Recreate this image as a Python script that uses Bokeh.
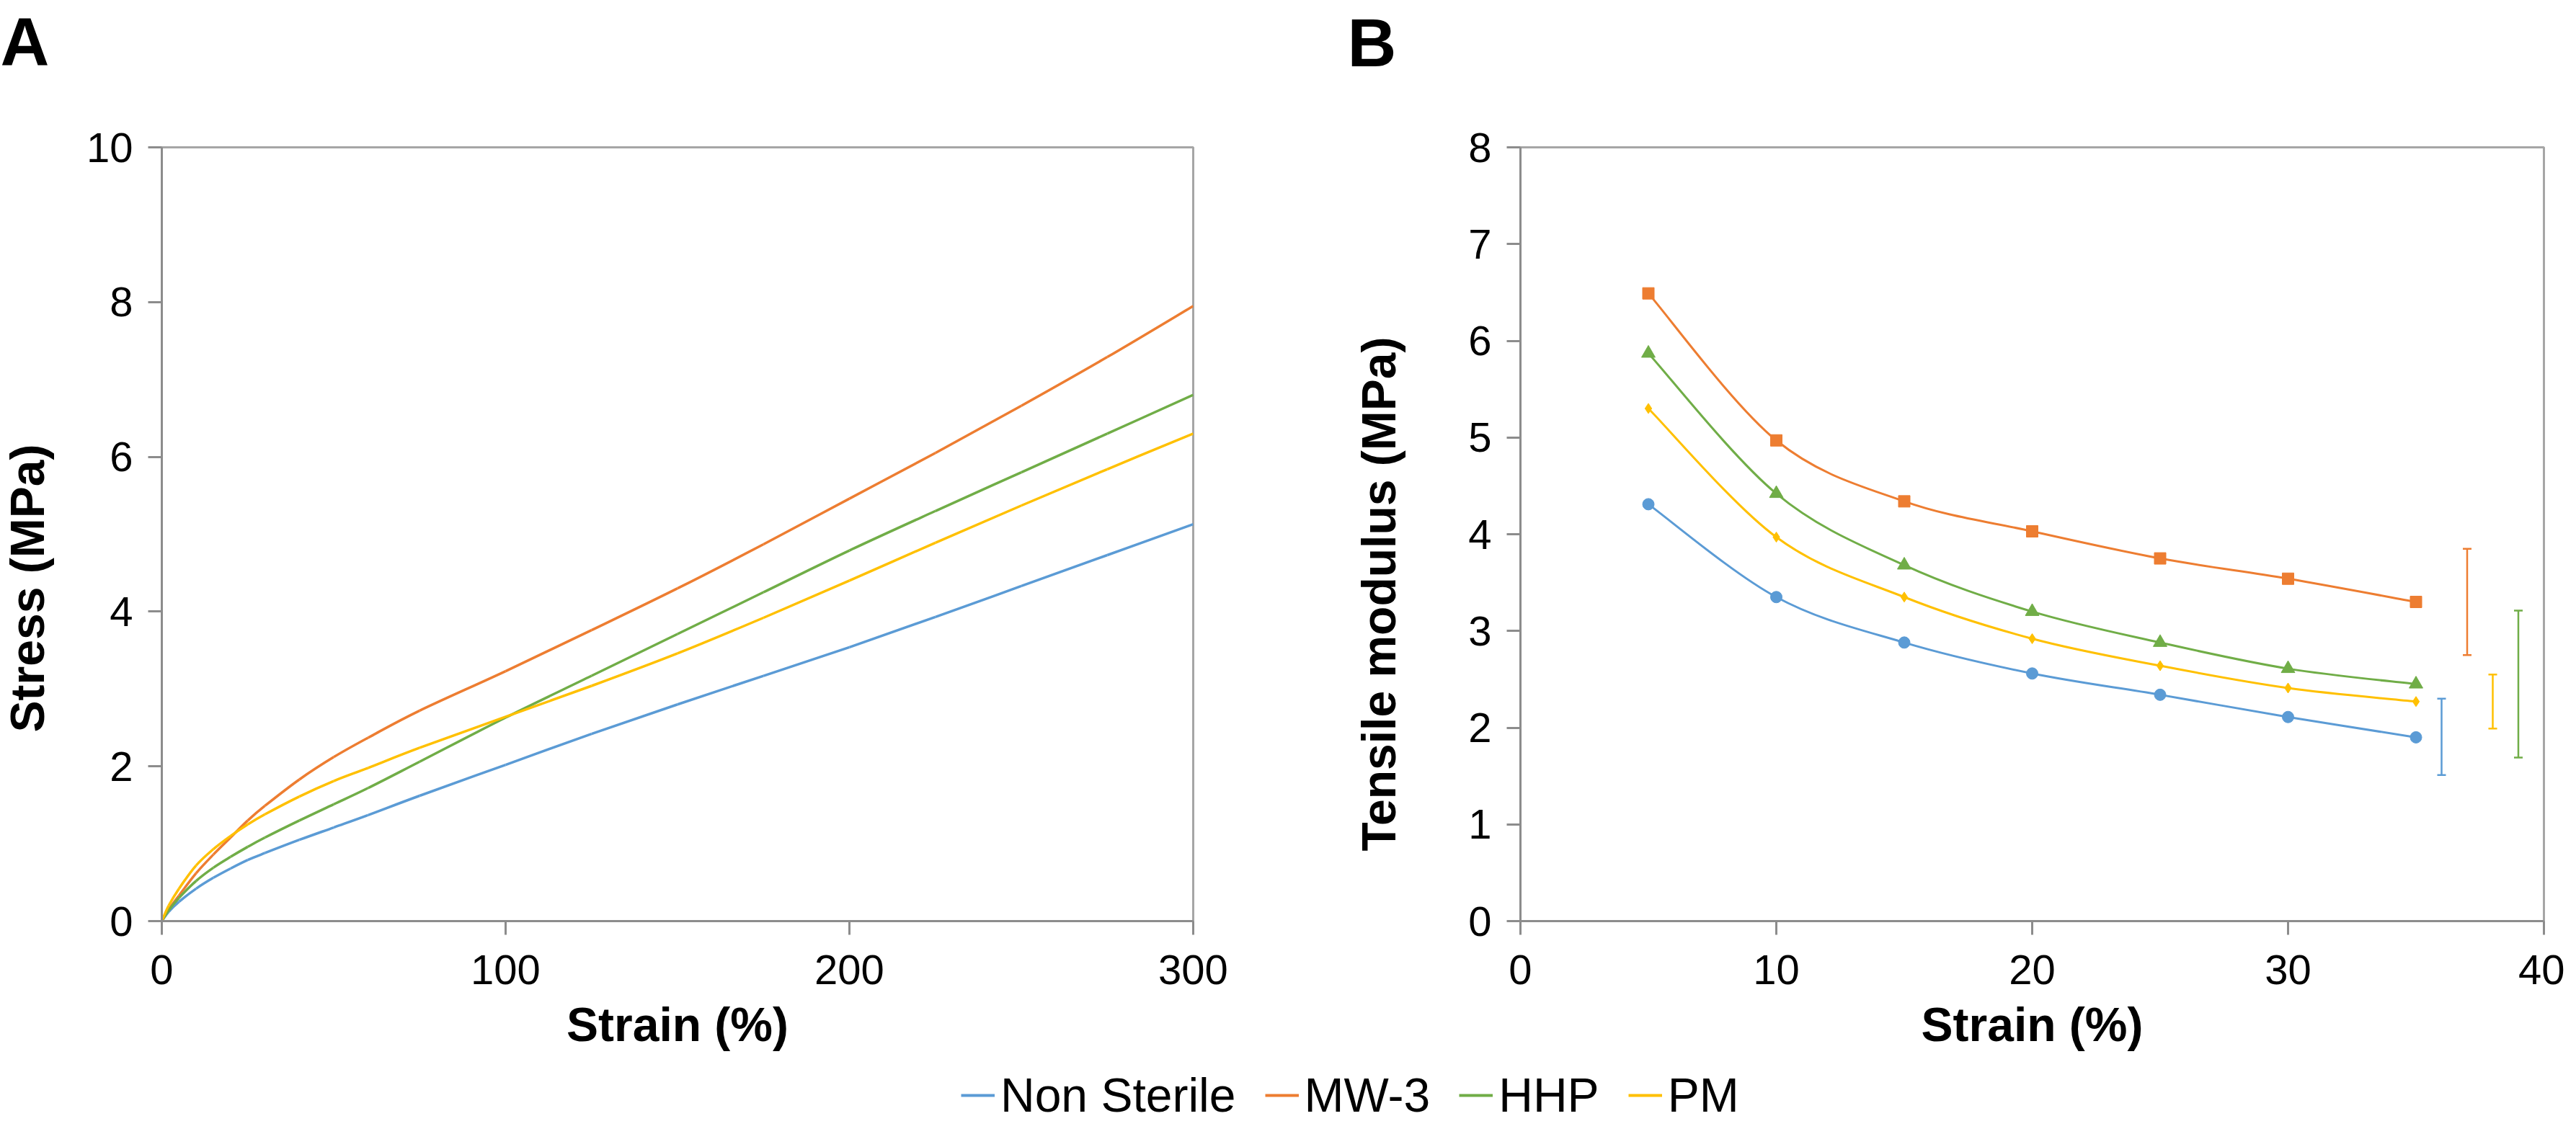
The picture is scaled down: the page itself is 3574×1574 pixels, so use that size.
from math import pi
from bokeh.plotting import figure
from bokeh.models import (Range1d, FixedTicker, Label, Legend, LegendItem, Title,
                          Whisker, TeeHead, ColumnDataSource)
from bokeh.layouts import column, row
from bokeh.embed import file_html
from bokeh.resources import INLINE

# ---------------- data ----------------
series_names = ["Non Sterile", "MW-3", "HHP", "PM"]
series_colors = ["#5B9BD5", "#ED7D31", "#70AD47", "#FFC000"]
series_markers = ["circle", "square", "triangle", "diamond"]

# Panel A: stress-strain curves
strain_a = [0, 2, 5, 10, 15, 20, 25, 30, 40, 50, 60, 75, 100, 125, 150, 175, 200, 225, 250, 275, 300]
stress_nonsterile = [0, 0.12, 0.25, 0.42, 0.56, 0.68, 0.79, 0.88, 1.05, 1.21, 1.37, 1.62, 2.02, 2.42, 2.80, 3.17, 3.54, 3.93, 4.33, 4.73, 5.13]
stress_mw3 = [0, 0.15, 0.33, 0.62, 0.86, 1.08, 1.30, 1.49, 1.83, 2.12, 2.37, 2.72, 3.23, 3.76, 4.30, 4.87, 5.46, 6.05, 6.66, 7.29, 7.95]
stress_hhp = [0, 0.14, 0.30, 0.52, 0.69, 0.83, 0.96, 1.08, 1.30, 1.51, 1.72, 2.06, 2.63, 3.17, 3.71, 4.25, 4.79, 5.30, 5.80, 6.30, 6.80]
stress_pm = [0, 0.20, 0.42, 0.72, 0.93, 1.10, 1.25, 1.38, 1.61, 1.81, 1.98, 2.24, 2.64, 3.04, 3.46, 3.92, 4.40, 4.89, 5.37, 5.84, 6.30]
xticks_a = [0, 100, 200, 300]
yticks_a = [0, 2, 4, 6, 8, 10]

# Panel B: tensile modulus
strain_b = [5, 10, 15, 20, 25, 30, 35]
modulus_nonsterile = [4.31, 3.35, 2.88, 2.56, 2.34, 2.11, 1.90]
modulus_mw3 = [6.49, 4.97, 4.34, 4.03, 3.75, 3.54, 3.30]
modulus_hhp = [5.87, 4.42, 3.68, 3.20, 2.88, 2.61, 2.45]
modulus_pm = [5.30, 3.97, 3.35, 2.92, 2.64, 2.41, 2.27]
# standalone error bars (order: Non Sterile, MW-3, HHP, PM)
errbar_x = [36, 37, 39, 38]
errbar_low = [1.51, 2.75, 1.69, 1.99]
errbar_high = [2.30, 3.85, 3.21, 2.55]
xticks_b = [0, 10, 20, 30, 40]
yticks_b = [0, 1, 2, 3, 4, 5, 6, 7, 8]

FONT = "Liberation Sans"
AXIS_COLOR = "#8C8C8C"
OUTLINE_COLOR = "#A6A6A6"
W = 3558


def smooth_source(xs, ys):
    """Cubic Bezier control points (Catmull-Rom style) through the data points."""
    n = len(xs)
    d = dict(x0=[], y0=[], x1=[], y1=[], cx0=[], cy0=[], cx1=[], cy1=[])
    for i in range(n - 1):
        im1 = max(i - 1, 0)
        ip2 = min(i + 2, n - 1)
        d["x0"].append(xs[i]); d["y0"].append(ys[i])
        d["x1"].append(xs[i + 1]); d["y1"].append(ys[i + 1])
        d["cx0"].append(xs[i] + (xs[i + 1] - xs[im1]) / 6.0)
        d["cy0"].append(ys[i] + (ys[i + 1] - ys[im1]) / 6.0)
        d["cx1"].append(xs[i + 1] - (xs[ip2] - xs[i]) / 6.0)
        d["cy1"].append(ys[i + 1] - (ys[ip2] - ys[i]) / 6.0)
    return ColumnDataSource(d)


def style(p, xt, yt):
    p.xgrid.visible = False
    p.ygrid.visible = False
    p.outline_line_color = OUTLINE_COLOR
    p.outline_line_width = 3
    p.background_fill_color = "white"
    p.border_fill_color = "white"
    p.xaxis.ticker = FixedTicker(ticks=xt)
    p.yaxis.ticker = FixedTicker(ticks=yt)
    for ax in (p.xaxis[0], p.yaxis[0]):
        ax.axis_line_color = AXIS_COLOR
        ax.axis_line_width = 3
        ax.major_tick_line_color = AXIS_COLOR
        ax.major_tick_line_width = 3
        ax.major_tick_out = 19
        ax.major_tick_in = 0
        ax.minor_tick_line_color = None
        ax.major_label_text_font = FONT
        ax.major_label_text_font_size = "58px"
        ax.major_label_text_color = "black"
    p.xaxis.major_label_standoff = 28
    p.yaxis.major_label_standoff = 21


def blank(width, height):
    f = figure(width=width, height=height, x_range=Range1d(0, 1), y_range=Range1d(0, 1),
               output_backend="svg", toolbar_location=None,
               min_border_left=0, min_border_right=0, min_border_top=0, min_border_bottom=0)
    f.axis.visible = False
    f.xgrid.visible = False
    f.ygrid.visible = False
    f.outline_line_color = None
    f.background_fill_color = "white"
    f.border_fill_color = "white"
    return f


def add_text(p, text, x, y, size, bold=True, angle=0.0, align="center", baseline="alphabetic"):
    p.add_layout(Label(x=x, y=y, x_units="screen", y_units="screen", text=text,
                       angle=angle, text_align=align, text_baseline=baseline,
                       text_font=FONT, text_font_size=size,
                       text_font_style="bold" if bold else "normal",
                       text_color="black"))


def x_title(p):
    p.add_layout(Title(text="Strain (%)", align="center", standoff=32,
                       vertical_align="top", text_font=FONT, text_font_size="66px",
                       text_font_style="bold", text_color="black"), "below")


ROW_H = 1330

# ---------------- top strip (panel letters) ----------------
pT = blank(W, 150)
add_text(pT, "A", 0, 92, "94px", align="left")
add_text(pT, "B", 1869, 91, "94px", align="left")

# ---------------- Panel A ----------------
yA = blank(100, ROW_H)
add_text(yA, "Stress (MPa)", 37, 462, "66px", angle=pi / 2, baseline="middle")

pA = figure(width=1680, height=ROW_H, x_range=Range1d(0, 300), y_range=Range1d(0, 10),
            output_backend="svg", toolbar_location=None,
            min_border_left=124, min_border_right=125, min_border_top=45, min_border_bottom=202)
style(pA, xticks_a, yticks_a)
for ys, c in zip([stress_nonsterile, stress_mw3, stress_hhp, stress_pm], series_colors):
    src = smooth_source(strain_a, ys)
    pA.bezier(x0="x0", y0="y0", x1="x1", y1="y1", cx0="cx0", cy0="cy0", cx1="cx1", cy1="cy1",
              source=src, line_color=c, line_width=3.5)
x_title(pA)

# ---------------- Panel B ----------------
yB = blank(200, ROW_H)
add_text(yB, "Tensile modulus (MPa)", 132, 454, "66px", angle=pi / 2, baseline="middle")

pB = figure(width=W - 1980, height=ROW_H, x_range=Range1d(0, 40), y_range=Range1d(0, 8),
            output_backend="svg", toolbar_location=None,
            min_border_left=129, min_border_right=29, min_border_top=54, min_border_bottom=202)
style(pB, xticks_b, yticks_b)
mod_series = [modulus_nonsterile, modulus_mw3, modulus_hhp, modulus_pm]
marker_sizes = [16, 16, 19, 14]
for ys, c in zip(mod_series, series_colors):
    src = smooth_source(strain_b, ys)
    pB.bezier(x0="x0", y0="y0", x1="x1", y1="y1", cx0="cx0", cy0="cy0", cx1="cx1", cy1="cy1",
              source=src, line_color=c, line_width=3)
for ys, c, m, s in zip(mod_series, series_colors, series_markers, marker_sizes):
    pB.scatter(strain_b, ys, marker=m, size=s, fill_color=c, line_color=c)
for i, c in enumerate(series_colors):
    wsrc = ColumnDataSource(dict(base=[errbar_x[i]], lower=[errbar_low[i]], upper=[errbar_high[i]]))
    pB.add_layout(Whisker(source=wsrc, base="base", lower="lower", upper="upper",
                          dimension="height", line_color=c, line_width=2.5,
                          upper_head=TeeHead(size=12, line_color=c, line_width=2.5),
                          lower_head=TeeHead(size=12, line_color=c, line_width=2.5)))
x_title(pB)

# ---------------- Legend strip ----------------
pL = blank(W, 78)
items = []
for name, c in zip(series_names, series_colors):
    # sample segment only (drawn outside the visible range; used as legend glyph)
    r = pL.line(x=[5, 6], y=[5, 6], line_color=c, line_width=4)
    items.append(LegendItem(label=name, renderers=[r]))
legend = Legend(items=items, orientation="horizontal", location=(1333, 0),
                padding=0, margin=0, spacing=40, label_standoff=8,
                glyph_width=47, glyph_height=40,
                label_text_font=FONT, label_text_font_size="66px", label_text_color="black",
                border_line_color=None, background_fill_alpha=0)
pL.add_layout(legend, "center")

layout = column(pT, row(yA, pA, yB, pB), pL)
open("out.html", "w").write(file_html(layout, INLINE))
